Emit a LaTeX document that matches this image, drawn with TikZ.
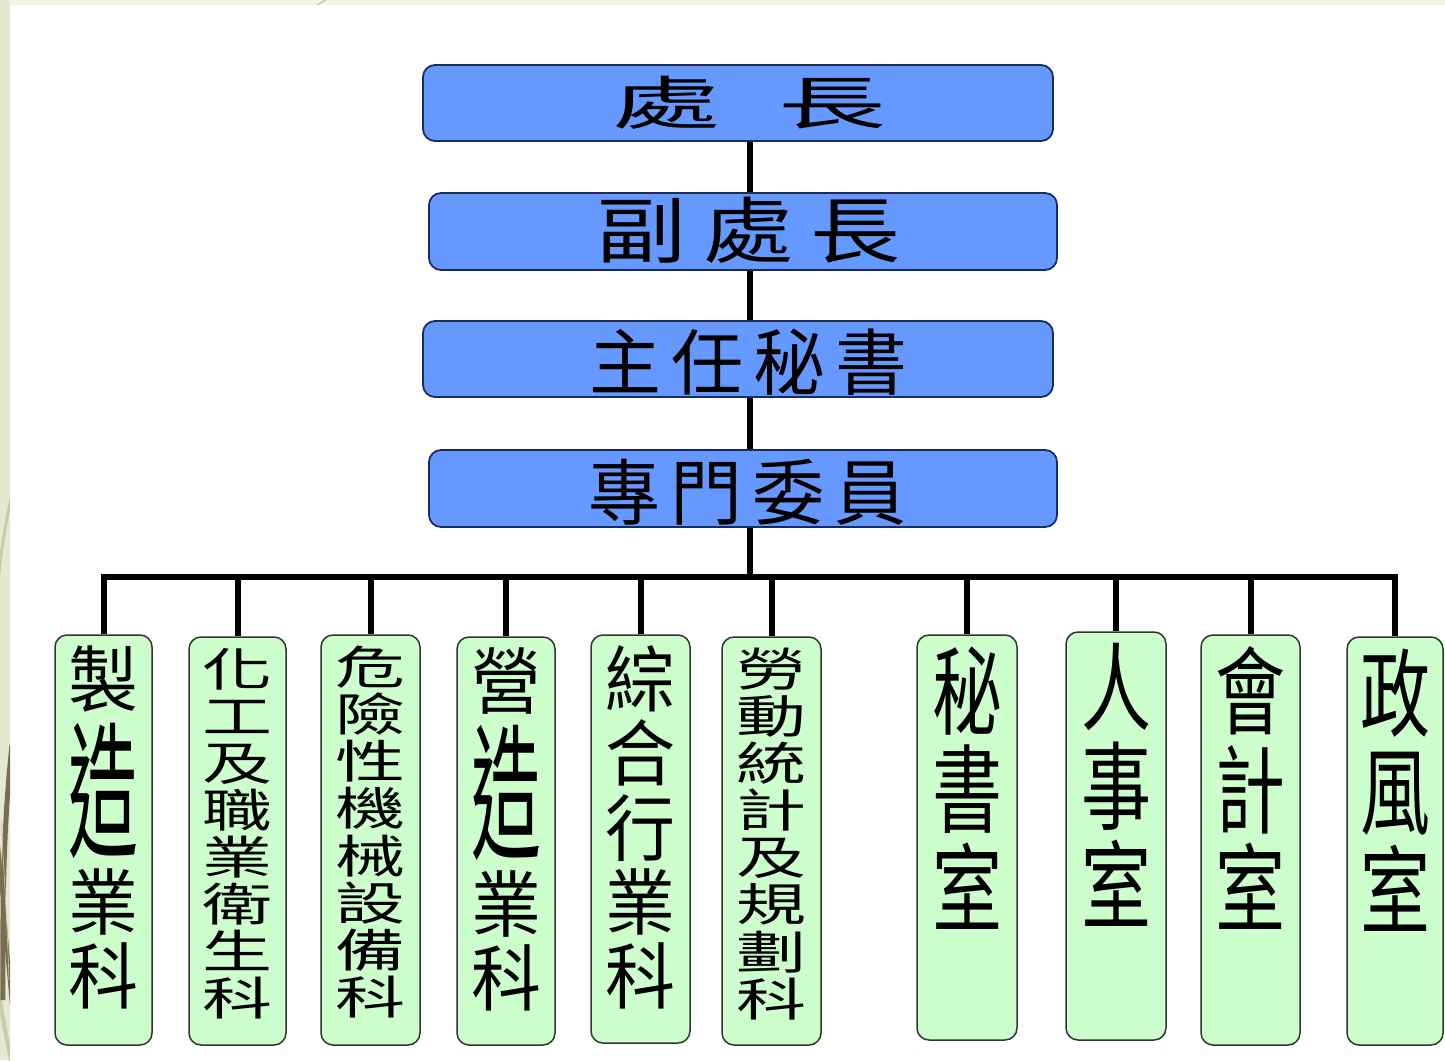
\documentclass[tikz,border=0pt]{standalone}
\usepackage{fontspec}
\usepackage{graphicx}
\newfontfamily\cjk{Noto Sans CJK TC}
\definecolor{topblue}{HTML}{6699FF}
\definecolor{topedge}{HTML}{1C2B5E}
\definecolor{leafgreen}{HTML}{CCFFCC}
\definecolor{leafedge}{HTML}{333333}
\definecolor{sage}{HTML}{E4E9D1}
\definecolor{topstrip}{HTML}{F1F3E8}
\definecolor{olivedeco}{HTML}{796F50}
\definecolor{palededo}{HTML}{C9CCA9}
\newcommand{\vtxt}[2]{\scalebox{1}[#1]{\vbox{\baselineskip=72pt\lineskiplimit=-200pt\lineskip=0pt\halign{\hfil##\hfil\cr#2\crcr}}}}
\newcommand{\tallchar}[1]{\raisebox{0.1234em}[0pt][0pt]{\scalebox{1}[2.03]{#1}}}
\newcommand{\widechar}[1]{\scalebox{1.25}[1]{#1}}
\begin{document}
\begin{tikzpicture}[x=1pt,y=1pt,
  topbox/.style={draw=topedge, line width=1.8pt, fill=topblue, rounded corners=12pt, inner sep=0pt},
  toptext/.style={inner sep=0pt, font=\cjk\fontsize{72}{80}\selectfont},
  leafbox/.style={draw=leafedge, line width=1.5pt, fill=leafgreen, rounded corners=12pt, inner sep=0pt},
  leaftext/.style={inner sep=0pt, anchor=north, font=\cjk\fontsize{70}{72}\selectfont},
  conn/.style={line width=6pt, draw=black, line join=miter}]
\useasboundingbox (0,0) rectangle (1445,-1060);
% background
\fill[sage] (0,0) rectangle (1445,-1060);
\fill[topstrip] (10,0) rectangle (1445,-5);
\fill[white] (10,-5) rectangle (1445,-1060);
\draw[gray!60, line width=0.8pt] (317,-5) -- (326,0);
\begin{scope}
  \clip (0,-480) rectangle (10,-1060);
  \draw[palededo, line width=3pt] (12,-495) .. controls (6,-520) and (2,-545) .. (-2,-580);
  \draw[palededo, line width=4pt] (-2,-990) .. controls (3,-1020) and (7,-1040) .. (12,-1065);
  \draw[olivedeco, line width=5pt] (12,-745) .. controls (5,-810) and (2,-880) .. (3,-1000);
  \draw[olivedeco, line width=4pt] (-2,-845) .. controls (3,-900) and (7,-950) .. (12,-1005);
  \draw[palededo, line width=0.6pt] (1,-820) .. controls (4,-870) and (7,-920) .. (9,-980);
\end{scope}
% top chain
\coordinate (tr) at (750,0);
\coordinate (bus) at (0,-577);
\node[topbox, minimum width=630, minimum height=76] (t1) at (738,-103) {};
\node[topbox, minimum width=628, minimum height=77] (t2) at (743,-231.5) {};
\node[topbox, minimum width=630, minimum height=76] (t3) at (738,-359) {};
\node[topbox, minimum width=628, minimum height=77] (t4) at (743,-488.5) {};
\node[toptext] (t1txt) at (749,-103) {\scalebox{1.5}[0.8]{處}\hspace{58pt}\scalebox{1.5}[0.8]{長}};
\node[toptext] (t2txt) at (748.5,-230.5) {\widechar{副}\hspace{17pt}\widechar{處}\hspace{17pt}\widechar{長}};
\node[toptext] (t3txt) at (748.5,-362) {主\hspace{10pt}任\hspace{10pt}秘\hspace{10pt}書};
\node[toptext] (t4txt) at (747.5,-492) {專\hspace{10pt}門\hspace{10pt}委\hspace{10pt}員};
% bottom boxes
\node[leafbox, minimum width=97, minimum height=410] (b1) at (103.5,-840) {};
\node[leafbox, minimum width=97, minimum height=408] (b2) at (237.5,-841) {};
\node[leafbox, minimum width=99, minimum height=410] (b3) at (370.5,-840) {};
\node[leafbox, minimum width=98, minimum height=408] (b4) at (506,-841) {};
\node[leafbox, minimum width=99, minimum height=408] (b5) at (640.5,-839) {};
\node[leafbox, minimum width=99, minimum height=408] (b6) at (771.5,-841) {};
\node[leafbox, minimum width=100, minimum height=405] (b7) at (967,-837.5) {};
\node[leafbox, minimum width=100, minimum height=408] (b8) at (1116,-836) {};
\node[leafbox, minimum width=99, minimum height=410] (b9) at (1250.5,-840) {};
\node[leafbox, minimum width=96, minimum height=408] (b10) at (1395,-841) {};
\node[leaftext] (b1txt) at ([yshift=-11]b1.north) {\vtxt{1.033}{製\cr\cr\tallchar{造}\cr 業\cr 科}};
\node[leaftext] (b2txt) at ([yshift=-12]b2.north) {\vtxt{0.653}{化\cr 工\cr 及\cr 職\cr 業\cr 衛\cr 生\cr 科}};
\node[leaftext] (b3txt) at ([yshift=-12]b3.north) {\vtxt{0.653}{危\cr 險\cr 性\cr 機\cr 械\cr 設\cr 備\cr 科}};
\node[leaftext] (b4txt) at ([yshift=-11]b4.north) {\vtxt{1.033}{營\cr\cr\tallchar{造}\cr 業\cr 科}};
\node[leaftext] (b5txt) at ([yshift=-11]b5.north) {\vtxt{1.033}{綜\cr 合\cr 行\cr 業\cr 科}};
\node[leaftext] (b6txt) at ([yshift=-12]b6.north) {\vtxt{0.653}{勞\cr 動\cr 統\cr 計\cr 及\cr 規\cr 劃\cr 科}};
\node[leaftext] (b7txt) at ([yshift=-12]b7.north) {\vtxt{1.37}{秘\cr 書\cr 室}};
\node[leaftext] (b8txt) at ([yshift=-12]b8.north) {\vtxt{1.37}{人\cr 事\cr 室}};
\node[leaftext] (b9txt) at ([yshift=-12]b9.north) {\vtxt{1.37}{會\cr 計\cr 室}};
\node[leaftext] (b10txt) at ([yshift=-12]b10.north) {\vtxt{1.37}{政\cr 風\cr 室}};
% connectors
\draw[conn] (t1.south -| tr) -- (t2.north -| tr);
\draw[conn] (t2.south -| tr) -- (t3.north -| tr);
\draw[conn] (t3.south -| tr) -- (t4.north -| tr);
\draw[conn] (t4.south -| tr) -- (bus -| tr);
\draw[conn] (b1.north) -- (b1.north |- bus) -- (b10.north |- bus) -- (b10.north);
\foreach \b in {b2,b3,b4,b5,b6,b7,b8,b9}
  \draw[conn] (\b.north) -- (\b.north |- bus);
\end{tikzpicture}
\end{document}
